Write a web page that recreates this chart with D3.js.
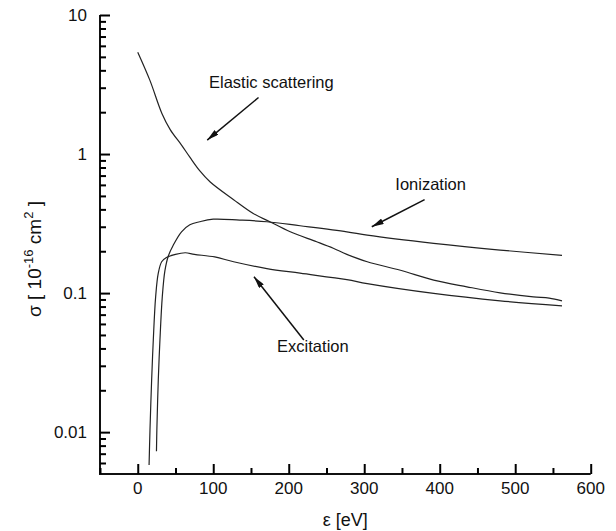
<!DOCTYPE html>
<html>
<head>
<meta charset="utf-8">
<script src="https://cdn.jsdelivr.net/npm/d3@7"></script>
<style>
	body { margin: 0; background: #fff; }
	svg text { font-family: "Liberation Sans", Arial, sans-serif; fill: #111; }
</style>
</head>
<body>
<script>
"use strict";

// cross sections, units of 1e-16 cm^2, energy in eV
var elasticE = [0, 16, 32, 43, 58, 69, 82, 96, 127, 153, 175, 202, 237, 259, 277, 304, 348, 392, 436, 480, 524, 545, 562];
var elasticS = [5.4, 3.4, 1.96, 1.5, 1.16, 0.95, 0.76, 0.63, 0.47, 0.374, 0.326, 0.276, 0.234, 0.21, 0.19, 0.168, 0.146, 0.124, 0.111, 0.1005, 0.094, 0.092, 0.088];

var ionE = [24.8, 25.3, 27.2, 29.4, 32.5, 36, 40.5, 47, 58, 69, 82, 100, 135, 171, 215, 277, 304, 392, 480, 562];
var ionS = [0.0073, 0.0103, 0.0237, 0.046, 0.094, 0.145, 0.185, 0.221, 0.276, 0.31, 0.326, 0.34, 0.335, 0.326, 0.305, 0.276, 0.261, 0.228, 0.204, 0.187];

var excE = [15, 16.2, 18.4, 20.6, 23.7, 27.2, 31.7, 38, 50, 63, 75, 102, 127, 171, 215, 277, 304, 392, 480, 562];
var excS = [0.0058, 0.0103, 0.0237, 0.046, 0.094, 0.139, 0.168, 0.18, 0.19, 0.195, 0.19, 0.182, 0.168, 0.15, 0.139, 0.125, 0.117, 0.0995, 0.088, 0.081];

var xTicks = [0, 100, 200, 300, 400, 500, 600];
var xMinor = [-50, 50, 150, 250, 350, 450, 550];
var yTicks = [0.01, 0.1, 1, 10];
var yTickLabels = ["0.01", "0.1", "1", "10"];

// annotations: label, label position (data), arrow from / to (data)
var notes = [
	{ text: "Elastic scattering", at: [177, 3.0], from: [160, 2.55], to: [92, 1.26] },
	{ text: "Ionization", at: [388, 0.55], from: [380, 0.47], to: [310, 0.30] },
	{ text: "Excitation", at: [232, 0.0375], from: [220, 0.046], to: [154, 0.131] }
];

var W = 616, H = 531;
var m = { left: 100, right: 590.7, top: 15, bottom: 474 };

var svg = d3.select("body").append("svg")
	.attr("width", W)
	.attr("height", H);

var x = d3.scaleLinear().domain([-50, 600]).range([m.left, m.right]);
var y = d3.scaleLog().domain([0.005, 10]).range([m.bottom, m.top]);

// minor log ticks
var yMinor = [];
[0.001, 0.01, 0.1, 1].forEach(function (dec) {
	for (var k = 2; k <= 9; k++) {
		var v = dec * k;
		if (v > 0.005 && v < 10) yMinor.push(v);
	}
});

// spines
svg.append("path")
	.attr("d", "M" + m.left + "," + m.top + " V" + m.bottom + " H" + m.right)
	.attr("fill", "none")
	.attr("stroke", "#111")
	.attr("stroke-width", 2);

// tick marks, pointing inwards
var yAxisMinor = d3.axisRight(y).tickValues(yMinor).tickSize(6).tickFormat("");
var yAxisMajor = d3.axisRight(y).tickValues(yTicks).tickSize(10).tickFormat("");
var xAxisMinor = d3.axisTop(x).tickValues(xMinor).tickSize(6).tickFormat("");
var xAxisMajor = d3.axisTop(x).tickValues(xTicks).tickSize(10).tickFormat("");

[yAxisMinor, yAxisMajor].forEach(function (ax) {
	svg.append("g")
		.attr("class", "tickGroup")
		.attr("transform", "translate(" + m.left + ",0)")
		.call(ax);
});
[xAxisMinor, xAxisMajor].forEach(function (ax) {
	svg.append("g")
		.attr("class", "tickGroup")
		.attr("transform", "translate(0," + m.bottom + ")")
		.call(ax);
});
svg.selectAll(".tickGroup .domain").remove();
svg.selectAll(".tickGroup line")
	.attr("stroke", "#000")
	.attr("stroke-width", 2);

// tick labels
svg.selectAll(".yLab").data(yTicks)
	.enter().append("text")
	.attr("class", "yLab")
	.attr("x", m.left - 13)
	.attr("y", d => y(d))
	.attr("dy", "0.35em")
	.style("text-anchor", "end")
	.style("font-size", "17px")
	.text((d, i) => yTickLabels[i]);

svg.selectAll(".xLab").data(xTicks)
	.enter().append("text")
	.attr("class", "xLab")
	.attr("x", d => x(d))
	.attr("y", 494)
	.style("text-anchor", "middle")
	.style("font-size", "17px")
	.text(d3.format("d"));

// axis titles
svg.append("text")
	.attr("x", (m.left + m.right) / 2)
	.attr("y", 526)
	.style("text-anchor", "middle")
	.style("font-size", "18px")
	.text("ε [eV]");

var yt = svg.append("text")
	.attr("transform", "translate(41,259) rotate(-90)")
	.style("text-anchor", "middle")
	.style("font-size", "19px");
yt.append("tspan").text("σ [ 10");
yt.append("tspan").attr("dy", -8).style("font-size", "13px").text("-16");
yt.append("tspan").attr("dy", 8).text(" cm");
yt.append("tspan").attr("dy", -8).style("font-size", "13px").text("2");
yt.append("tspan").attr("dy", 8).text(" ]");

// curves
var line = d3.line()
	.x(d => x(d[0]))
	.y(d => y(d[1]))
	.curve(d3.curveCatmullRom.alpha(0.5));

var series = [
	d3.zip(elasticE, elasticS),
	d3.zip(ionE, ionS),
	d3.zip(excE, excS)
];

svg.append("g").selectAll("path")
	.data(series)
	.enter().append("path")
	.attr("d", line)
	.attr("fill", "none")
	.attr("stroke", "#222")
	.attr("stroke-width", 1.2);

// arrowheads
svg.append("defs").append("marker")
	.attr("id", "head")
	.attr("viewBox", "0 0 12 6")
	.attr("refX", 12)
	.attr("refY", 3)
	.attr("markerWidth", 12)
	.attr("markerHeight", 6)
	.attr("markerUnits", "userSpaceOnUse")
	.attr("orient", "auto")
	.append("path")
	.attr("d", "M0,0 L12,3 L0,6 Z")
	.attr("fill", "#111");

var noteG = svg.append("g").selectAll("g")
	.data(notes)
	.enter().append("g");

noteG.append("line")
	.attr("x1", d => x(d.from[0]))
	.attr("y1", d => y(d.from[1]))
	.attr("x2", d => x(d.to[0]))
	.attr("y2", d => y(d.to[1]))
	.attr("stroke", "#111")
	.attr("stroke-width", 1.5)
	.attr("marker-end", "url(#head)");

noteG.append("text")
	.attr("x", d => x(d.at[0]))
	.attr("y", d => y(d.at[1]))
	.style("text-anchor", "middle")
	.style("font-size", "16.5px")
	.text(d => d.text);
</script>
</body>
</html>
